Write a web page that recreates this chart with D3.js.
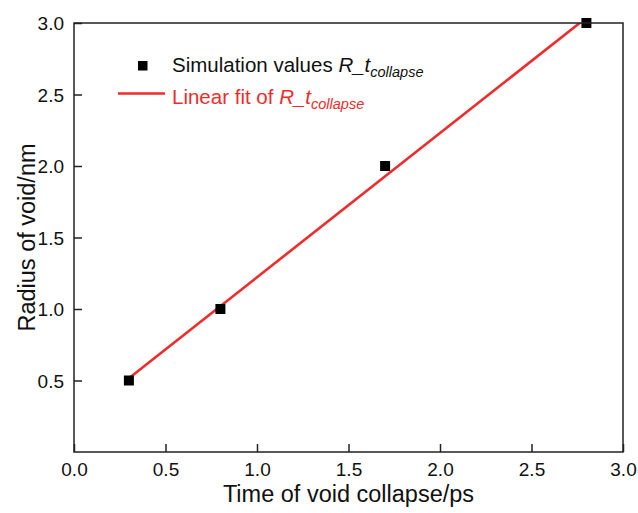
<!DOCTYPE html>
<html><head><meta charset="utf-8">
<script src="https://cdn.jsdelivr.net/npm/d3@7"></script>
<style>body{margin:0;background:#fff}svg{display:block;font-family:Arial,"Liberation Sans",sans-serif}</style>
</head><body>
<svg id="c" width="638" height="513"></svg>
<script>
const timeValues = [0.3, 0.8, 1.7, 2.8];
const radiusValues = [0.5, 1.0, 2.0, 3.0];
const fitX = [0.3, 2.8];
const fitY = [0.516, 3.037];
const xTicks = [0.0, 0.5, 1.0, 1.5, 2.0, 2.5, 3.0];
const yTicks = [0.5, 1.0, 1.5, 2.0, 2.5, 3.0];
const xTitle = "Time of void collapse/ps";
const yTitle = "Radius of void/nm";

const svg = d3.select("#c");
const L = 74, R = 623, T = 23, B = 452;
const x = d3.scaleLinear().domain([0, 3]).range([L, R]);
const y = d3.scaleLinear().domain([0, 3]).range([B, T]);
const red = "#ee2c2c";

svg.append("defs").append("clipPath").attr("id", "clip")
  .append("rect").attr("x", L).attr("y", T).attr("width", R - L).attr("height", B - T);

// fit line
svg.append("path")
  .attr("clip-path", "url(#clip)")
  .datum(fitX.map((d, i) => [d, fitY[i]]))
  .attr("d", d3.line().x(d => x(d[0])).y(d => y(d[1])))
  .attr("stroke", red).attr("stroke-width", 2.6).attr("fill", "none");

// points
svg.selectAll("rect.pt").data(timeValues).enter().append("rect")
  .attr("class", "pt")
  .attr("x", (d) => x(d) - 5).attr("y", (d, i) => y(radiusValues[i]) - 5)
  .attr("width", 10).attr("height", 10).attr("fill", "#000");

// axes
const xAxis = d3.axisBottom(x).tickValues(xTicks).tickSizeInner(-8).tickSizeOuter(0).tickPadding(11).tickFormat(d3.format(".1f"));
const yAxis = d3.axisLeft(y).tickValues(yTicks).tickSizeInner(-8).tickSizeOuter(0).tickPadding(10).tickFormat(d3.format(".1f"));
const gx = svg.append("g").attr("transform", `translate(0,${B})`).call(xAxis);
const gy = svg.append("g").attr("transform", `translate(${L},0)`).call(yAxis);
[gx, gy].forEach(g => {
  g.select(".domain").remove();
  g.selectAll(".tick line").attr("stroke", "#222").attr("stroke-width", 1.5);
  g.selectAll(".tick text").attr("font-size", 19).attr("fill", "#111").attr("font-family", "Arial, 'Liberation Sans', sans-serif");
});
gy.selectAll(".tick text").attr("dy", "0.36em");
gx.selectAll(".tick text").attr("dy", "0.71em");

// frame
svg.append("rect").attr("x", L).attr("y", T).attr("width", R - L).attr("height", B - T)
  .attr("fill", "none").attr("stroke", "#222").attr("stroke-width", 1.5);

// axis titles
svg.append("text").attr("x", (L + R) / 2).attr("y", 502).attr("text-anchor", "middle")
  .attr("font-size", 23.5).attr("fill", "#111").text(xTitle);
svg.append("text").attr("transform", `translate(35,${(T + B) / 2}) rotate(-90)`).attr("text-anchor", "middle")
  .attr("font-size", 23.5).attr("fill", "#111").text(yTitle);

// legend
svg.append("rect").attr("x", 138).attr("y", 61).attr("width", 9.5).attr("height", 9.5).attr("fill", "#000");
svg.append("line").attr("x1", 118).attr("x2", 165).attr("y1", 93.5).attr("y2", 93.5)
  .attr("stroke", red).attr("stroke-width", 2.6);

function legendText(yPos, label, color) {
  const t = svg.append("text").attr("x", 172).attr("y", yPos).attr("font-size", 20.5).attr("fill", color);
  t.append("tspan").text(label);
  t.append("tspan").attr("font-style", "italic").text("R_t");
  t.append("tspan").attr("font-style", "italic").attr("font-size", 14.5).attr("dy", 5).text("collapse");
}
legendText(72, "Simulation values ", "#111");
legendText(104, "Linear fit of ", red);
</script>
</body></html>
